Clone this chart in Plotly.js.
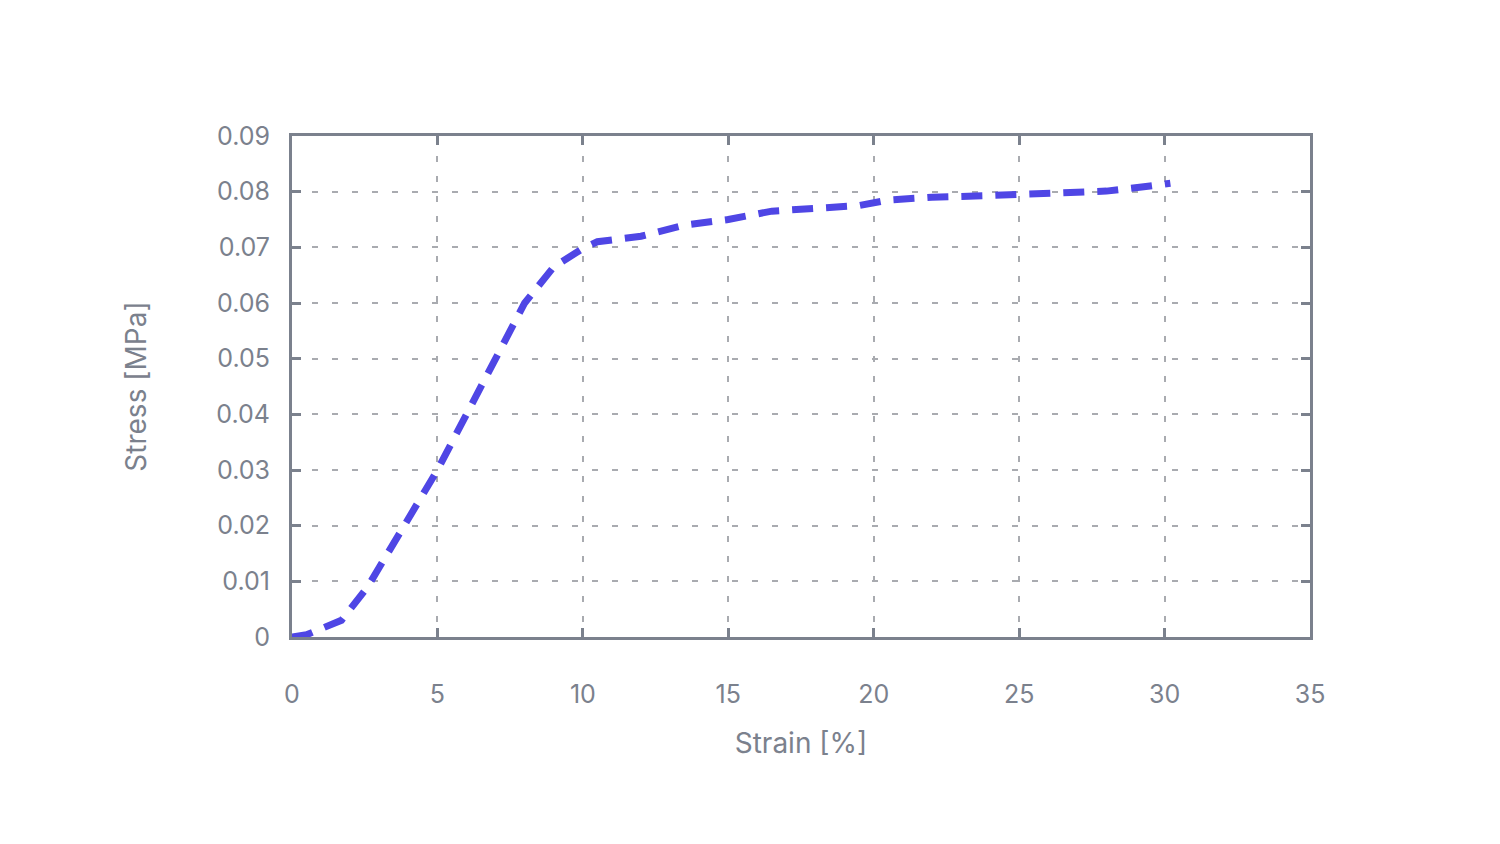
<!DOCTYPE html>
<html>
<head>
<meta charset="utf-8">
<script src="https://cdn.plot.ly/plotly-3.0.1.min.js"></script>
<style>html,body{margin:0;padding:0;background:#fff;}#chart{width:1500px;height:844px;}</style>
</head>
<body>
<div id="chart"></div>
<script>
const strain = [0, 0.5, 1.7, 2.6, 5.0, 8.0, 9.0, 10.0, 10.5, 12.0, 13.5, 15.0, 16.5, 18.0, 19.5, 20.5, 22.0, 24.0, 25.5, 27.0, 28.0, 29.5, 30.0, 30.2];
const stress = [0, 0.0004, 0.003, 0.009, 0.030, 0.060, 0.0665, 0.0698, 0.071, 0.072, 0.074, 0.075, 0.0765, 0.077, 0.0775, 0.0785, 0.079, 0.0793, 0.0797, 0.080, 0.0801, 0.081, 0.0812, 0.0815];
const xTicks = [0, 5, 10, 15, 20, 25, 30, 35];
const yTicks = [0, 0.01, 0.02, 0.03, 0.04, 0.05, 0.06, 0.07, 0.08, 0.09];

const axisColor = '#7b818d';
const gridColor = '#a9abb0';
const fontFam = 'Inter, "Open Sans", sans-serif';

const trace = {
  x: strain, y: stress, type: 'scatter', mode: 'lines',
  line: {color: '#4f46e5', width: 7, dash: '21px,13px', shape: 'linear'},
  hoverinfo: 'skip', cliponaxis: true
};

const layout = {
  width: 1500, height: 844,
  paper_bgcolor: '#ffffff', plot_bgcolor: '#ffffff',
  margin: {l: 292, r: 190, t: 136, b: 207},
  showlegend: false,
  font: {family: fontFam, color: axisColor, size: 25},
  xaxis: {
    range: [0, 35], tickvals: xTicks, ticktext: xTicks.map(String),
    showline: true, linecolor: axisColor, linewidth: 3, mirror: 'ticks',
    ticks: 'inside', ticklen: 9, tickwidth: 3, tickcolor: axisColor,
    showgrid: true, gridcolor: gridColor, gridwidth: 2, griddash: '6px,14px',
    zeroline: false, ticklabelstandoff: 33,
    tickfont: {family: fontFam, size: 25, color: axisColor},
    title: {text: 'Strain [%]', font: {family: fontFam, size: 28, color: axisColor}, standoff: 26},
    automargin: false
  },
  yaxis: {
    range: [0, 0.09], tickvals: yTicks, ticktext: yTicks.map(v => v === 0 ? '0' : v.toFixed(2)),
    showline: true, linecolor: axisColor, linewidth: 3, mirror: 'ticks',
    ticks: 'inside', ticklen: 9, tickwidth: 3, tickcolor: axisColor,
    showgrid: true, gridcolor: gridColor, gridwidth: 2, griddash: '6px,14px',
    zeroline: false, ticklabelstandoff: 14,
    tickfont: {family: fontFam, size: 25, color: axisColor},
    title: {text: 'Stress [MPa]', font: {family: fontFam, size: 28, color: axisColor}, standoff: 62},
    automargin: false
  }
};

Plotly.newPlot('chart', [trace], layout, {displayModeBar: false, staticPlot: true});
</script>
</body>
</html>
